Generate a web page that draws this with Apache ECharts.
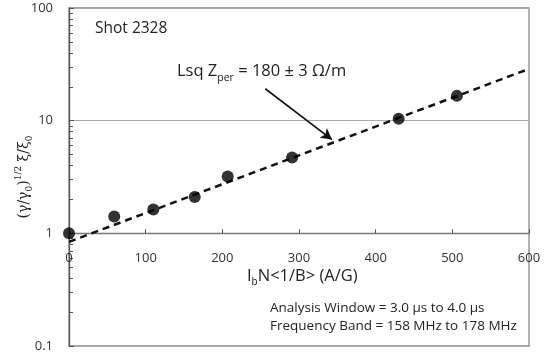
<!DOCTYPE html>
<html><head><meta charset="utf-8">
<script src="https://cdn.jsdelivr.net/npm/echarts@6/dist/echarts.min.js"></script>
<style>html,body{margin:0;padding:0;background:#fff}#c{width:546px;height:357px}</style>
</head><body><div id="c"></div>
<script>
// Data
var xVals = [0, 59, 110, 164, 207, 291, 430, 506];
var yVals = [1.0, 1.41, 1.63, 2.1, 3.19, 4.71, 10.4, 16.6];
var fitX = [0, 600];
var fitY = [0.84, 28.8];
var arrowFrom = [256, 19.2];
var arrowTo = [343, 6.8];
var xTicks = [0, 100, 200, 300, 400, 500, 600];
var yMajor = [0.1, 1, 10, 100];
var yMinor = [0.2,0.3,0.4,0.5,0.6,0.7,0.8,0.9,2,3,4,5,6,7,8,9,20,30,40,50,60,70,80,90];

var FONT = 'Open Sans';
var chart = echarts.init(document.getElementById('c'), null, {renderer: 'canvas'});
var gridTop = 8, gridBottom = 11;
var decade = (357 - gridTop - gridBottom) / 3;

chart.setOption({
  backgroundColor: '#fff',
  animation: false,
  grid: {left: 69, right: 17, top: gridTop, bottom: gridBottom, show: true, borderColor: '#888', borderWidth: 1.3,
         containLabel: false, outerBoundsMode: 'none'},
  xAxis: [
    {type: 'value', min: 0, max: 600, interval: 100, position: 'bottom',
     axisLine: {show: false}, axisTick: {show: false}, axisLabel: {show: false}, splitLine: {show: false}},
    {type: 'value', min: 0, max: 600, interval: 100, position: 'bottom', offset: -decade,
     axisLine: {show: true, onZero: false, lineStyle: {color: '#777', width: 1.3}},
     axisTick: {show: true, inside: true, length: 4, lineStyle: {color: '#555'}},
     axisLabel: {show: true, margin: 18, fontSize: 13, fontFamily: FONT, color: '#333'},
     splitLine: {show: false}}
  ],
  yAxis: [
    {type: 'log', logBase: 10, min: 0.1, max: 100,
     axisLine: {show: true, lineStyle: {color: '#555', width: 1.3}},
     axisTick: {show: true, inside: true, length: 5, lineStyle: {color: '#555'}},
     axisLabel: {show: true, margin: 16, fontSize: 13, fontFamily: FONT, color: '#333',
       formatter: function (v) { return String(v); }},
     splitLine: {show: true, lineStyle: {color: '#aaa', width: 1}},
     name: '{n|(γ/γ}{s|0}{n|)}{p|1/2}{n| ξ/ξ}{s|0}', nameLocation: 'middle', nameRotate: 90, nameGap: 35,
     nameMoveOverlap: false,
     nameTextStyle: {color: '#222', rich: {
       n: {fontSize: 14, fontFamily: 'DejaVu Serif', color: '#222', lineHeight: 20, verticalAlign: 'middle'},
       s: {fontSize: 9, fontFamily: 'DejaVu Serif', color: '#222', lineHeight: 20, verticalAlign: 'bottom'},
       p: {fontSize: 9, fontFamily: 'DejaVu Serif', color: '#222', lineHeight: 20, verticalAlign: 'top'}}}},
    {type: 'log', logBase: 10, min: 0.1, max: 100, position: 'left',
     axisLine: {show: false},
     axisTick: {show: true, inside: true, length: 4, customValues: yMinor, lineStyle: {color: '#555'}},
     axisLabel: {show: false}, splitLine: {show: false}}
  ],
  graphic: [
    {type: 'text', left: 95, top: 21, style: {text: 'Shot 2328', fontSize: 15.5, fontFamily: FONT, fill: '#222'}},
    {type: 'text', left: 177, top: 63, style: {
      text: '{n|Lsq Z}{s|per}{n| = 180 ± 3 Ω/m}', fontFamily: FONT, fill: '#222',
      rich: {n: {fontSize: 16.5, fontFamily: FONT, fill: '#222', lineHeight: 24, verticalAlign: 'middle'},
             s: {fontSize: 10.5, fontFamily: FONT, fill: '#222', verticalAlign: 'bottom', lineHeight: 24}}}},
    {type: 'text', left: 247, top: 268, style: {
      text: '{n|I}{s|b}{n|N<1/B> (A/G)}', fontFamily: FONT, fill: '#222',
      rich: {n: {fontSize: 16.5, fontFamily: FONT, fill: '#222', lineHeight: 22, verticalAlign: 'middle'},
             s: {fontSize: 10, fontFamily: FONT, fill: '#222', verticalAlign: 'bottom', lineHeight: 22}}}},
    {type: 'text', left: 270, top: 301, style: {text: 'Analysis Window = 3.0 μs to 4.0 μs', fontSize: 13.5, fontFamily: FONT, fill: '#222'}},
    {type: 'text', left: 270, top: 319, style: {text: 'Frequency Band = 158 MHz to 178 MHz', fontSize: 13.5, fontFamily: FONT, fill: '#222'}}
  ],
  series: [
    {type: 'line', xAxisIndex: 0, yAxisIndex: 0,
     data: fitX.map(function (x, i) { return [x, fitY[i]]; }),
     showSymbol: false, silent: true, z: 2,
     lineStyle: {color: '#111', width: 2.5, type: [7, 5]},
     markLine: {silent: true, symbol: ['none', 'arrow'], symbolSize: [9, 11],
       lineStyle: {color: '#111', width: 1.6, type: 'solid'}, label: {show: false},
       data: [[{coord: arrowFrom}, {coord: arrowTo}]]}},
    {type: 'scatter', xAxisIndex: 0, yAxisIndex: 0,
     data: xVals.map(function (x, i) { return [x, yVals[i]]; }),
     symbol: 'circle', symbolSize: 12, itemStyle: {color: '#000'}, z: 3}
  ]
});
</script></body></html>
